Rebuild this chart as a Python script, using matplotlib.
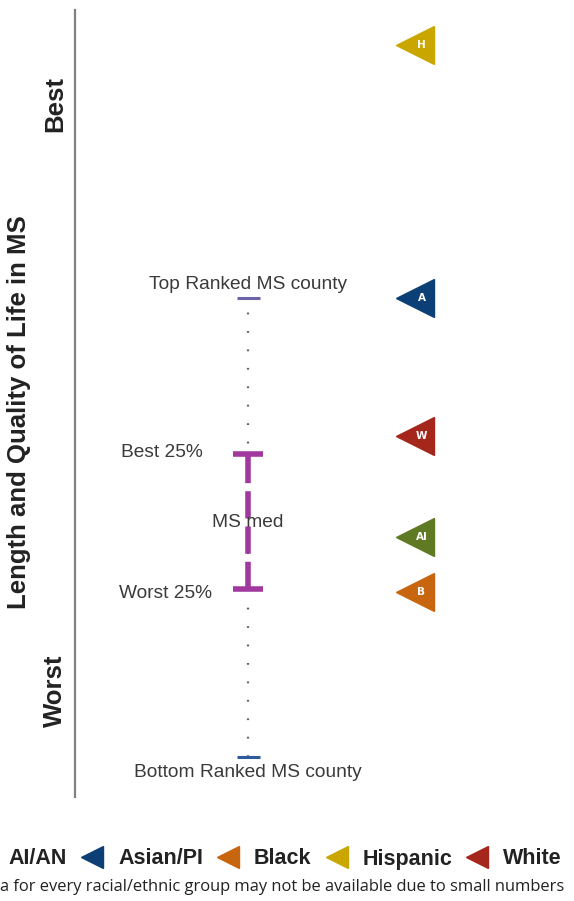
import matplotlib
matplotlib.use("Agg")
import matplotlib.pyplot as plt
from matplotlib.lines import Line2D
from matplotlib import font_manager

# ---- data (scale: bottom ranked MS county = 0, top ranked = 100) ----
groups = ["Hispanic", "Asian/PI", "White", "AI/AN", "Black"]
group_letters = ["H", "A", "W", "AI", "B"]
group_values = [155, 100, 70, 48, 36]
group_colors = ["#c9a700", "#0b3f75", "#a5261b", "#5f7a22", "#c8650f"]

ms_top = 100
ms_bottom = 0
ms_best25 = 66
ms_worst25 = 36.5
ms_median = 51

legend_order = ["AI/AN", "Asian/PI", "Black", "Hispanic", "White"]
footnote = "a for every racial/ethnic group may not be available due to small numbers"

names = {f.name for f in font_manager.fontManager.ttflist}
narrow = "Liberation Sans Narrow" if "Liberation Sans Narrow" in names else "Liberation Sans"

W, H = 574, 901
fig = plt.figure(figsize=(W / 100, H / 100), dpi=100)
ax = fig.add_axes([75 / W, 1 - 797 / H, 499 / W, 787 / H])
ax.set_xlim(-1.039, 1.955)
ax.set_ylim(-8.7, 162.7)
for s in ["top", "right", "bottom"]:
    ax.spines[s].set_visible(False)
ax.spines["left"].set_color("#808080")
ax.spines["left"].set_linewidth(1.6)
ax.set_xticks([])
ax.set_yticks([])

txt = "#3a3a3a"
fs = 13.8
# MS distribution
ax.plot([0, 0], [ms_bottom, ms_top], color="#5a6070", lw=1.6,
        linestyle=(0, (0.8, 7.5)), zorder=1)
ax.plot([-0.07, 0.07], [ms_top, ms_top], color="#6a64a8", lw=2.2, solid_capstyle="butt")
ax.plot([-0.07, 0.07], [ms_bottom, ms_bottom], color="#2f5b9c", lw=2.2, solid_capstyle="butt")
ax.plot([0, 0], [ms_worst25, ms_best25], color="#a0389e", lw=4,
        linestyle=(0, (4.9, 1.45)), solid_capstyle="butt", zorder=2)
for v in (ms_best25, ms_worst25):
    ax.plot([-0.09, 0.09], [v, v], color="#a0389e", lw=4, solid_capstyle="butt", zorder=2)

ax.text(0, ms_top + 3.0, "Top Ranked MS county", ha="center", va="center",
        fontsize=fs, color=txt, family="Liberation Sans")
ax.text(0, ms_bottom - 3.3, "Bottom Ranked MS county", ha="center", va="center",
        fontsize=fs, color=txt, family="Liberation Sans")
ax.text(-0.27, ms_best25 + 0.4, "Best 25%", ha="right", va="center",
        fontsize=fs, color=txt, family="Liberation Sans")
ax.text(-0.215, ms_worst25 - 0.9, "Worst 25%", ha="right", va="center",
        fontsize=fs, color=txt, family="Liberation Sans")
ax.text(-0.215, ms_median + 0.1, "MS med", ha="left", va="center",
        fontsize=fs, color=txt, family="Liberation Sans")

# group markers
for g, l, v, c in zip(groups, group_letters, group_values, group_colors):
    ax.plot(1, v, marker="<", markersize=27, color=c, markeredgecolor=c, zorder=3)
    ax.text(1.04, v, l, ha="center", va="center", color="white",
            fontsize=7.5, fontweight="bold", zorder=4)

# axis labels
lab_fs = 22 if narrow != "Liberation Sans" else 18.5
fig.text(55 / W, 1 - 104 / H, "Best", rotation=90, ha="center", va="center",
         fontsize=lab_fs, fontweight="bold", color="#222222", family=narrow)
fig.text(55 / W, 1 - 691 / H, "Worst", rotation=90, ha="center", va="center",
         fontsize=lab_fs, fontweight="bold", color="#222222", family=narrow)
fig.text(19 / W, 1 - 412 / H, "Length and Quality of Life in MS", rotation=90,
         ha="center", va="center", fontsize=lab_fs, fontweight="bold",
         color="#222222", family=narrow)

# legend (built manually, right to left, so the layout matches the reference)
cmap = dict(zip(groups, group_colors))
renderer = fig.canvas.get_renderer()
leg_mid_y = 1 - 857 / H
leg_base_y = 1 - 864.5 / H
x_px = 562.0
for lab in reversed(legend_order):
    t = fig.text(x_px / W, leg_base_y, lab, ha="right", va="baseline",
                 fontsize=15.5, fontweight="bold", color="#222222",
                 family="Liberation Sans")
    w = t.get_window_extent(renderer).width
    mx = x_px - w - 26
    fig.add_artist(Line2D([mx / W], [leg_mid_y], marker="<", markersize=16,
                          linestyle="none", color=cmap[lab],
                          transform=fig.transFigure))
    x_px = mx - 25

fig.text(0.5 / W, 1 - 887 / H, footnote, ha="left", va="center",
         fontsize=11.9, color="#222222", family="Open Sans")

fig.savefig("out.png", dpi=100)
